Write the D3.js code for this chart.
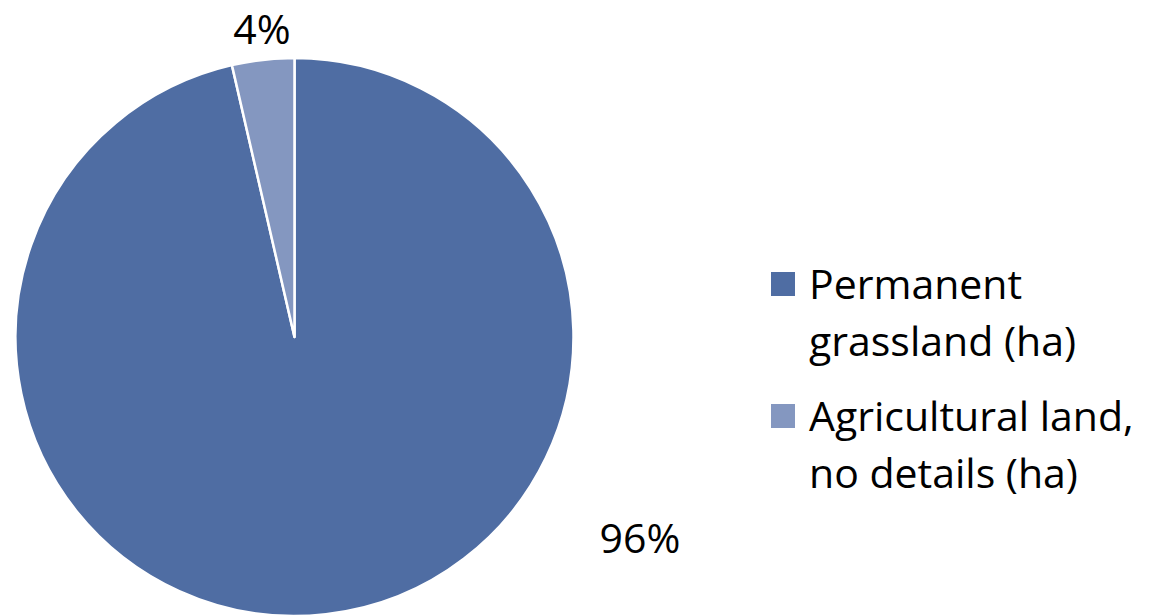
<!DOCTYPE html>
<html><head><meta charset="utf-8">
<script src="https://cdn.jsdelivr.net/npm/d3@7"></script>
<style>body{margin:0;background:#fff;}svg{display:block;}text{font-family:"Open Sans",sans-serif;fill:#000;}</style>
</head><body>
<svg id="chart" width="1149" height="616"></svg>
<script>
const categories = ["Permanent grassland (ha)", "Agricultural land, no details (ha)"];
const legendLines = [["Permanent", "grassland (ha)"], ["Agricultural land,", "no details (ha)"]];
const values = [96.4, 3.6];
const percentLabels = ["96%", "4%"];
const colors = ["#4F6DA3", "#8497C0"];

const svg = d3.select("#chart");
const cx = 294.5, cy = 337, r = 279;
const pie = d3.pie().sort(null).value(d => d)(values);
const arc = d3.arc().innerRadius(0).outerRadius(r);
const g = svg.append("g").attr("transform", `translate(${cx},${cy})`);
g.selectAll("path").data(pie).join("path")
  .attr("d", arc).attr("fill", (d,i) => colors[i])
  .attr("stroke", "#fff").attr("stroke-width", 2.5).attr("stroke-linejoin","round");

const labelPos = [[640, 553], [262, 44]];
svg.selectAll("text.pct").data(pie).join("text").attr("class","pct")
  .attr("x", (d,i) => labelPos[i][0]).attr("y", (d,i) => labelPos[i][1])
  .attr("text-anchor","middle").attr("font-size", 41)
  .text((d,i) => percentLabels[i]);

const leg = svg.append("g");
const legY = [272, 404];
categories.forEach((c,i) => {
  leg.append("rect").attr("x", 771).attr("y", legY[i]).attr("width", 24).attr("height", 24).attr("fill", colors[i]);
  legendLines[i].forEach((ln,j) => {
    leg.append("text").attr("x", 809).attr("y", legY[i] + 27 + j*57).attr("font-size", 41).text(ln);
  });
});
</script>
</body></html>
